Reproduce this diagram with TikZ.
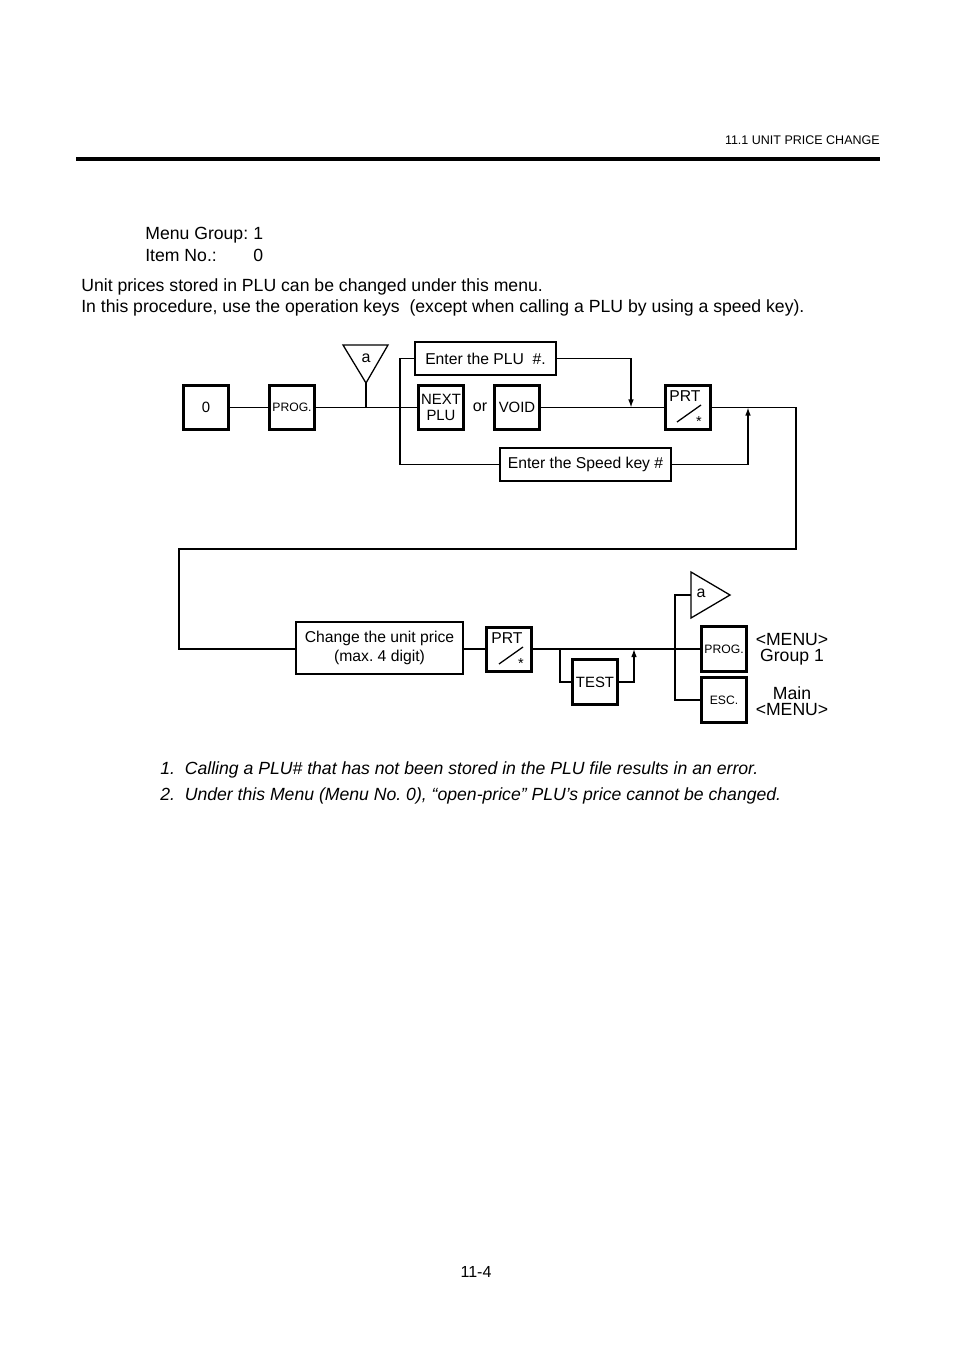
\documentclass[tikz,border=0pt]{standalone}
\usepackage{fontspec}
\setmainfont{Liberation Sans}
\usetikzlibrary{arrows.meta}
\frenchspacing
\begin{document}
\begin{tikzpicture}[x=0.624pt,y=-0.624pt,
  keybox/.style={draw,line width=1.9pt,minimum width=27.5pt,minimum height=27.5pt,inner sep=0pt,font=\fontsize{9.3}{10.5}\selectfont,align=center},
  smallkey/.style={keybox,font=\fontsize{7.6}{9}\selectfont},
  textbox/.style={draw,line width=0.9pt,inner sep=0pt,font=\fontsize{9.8}{11.5}\selectfont,align=center},
  conn/.style={line width=0.8pt},
  arr/.style={conn,-{Latex[length=5pt,width=3.5pt]}},
  body/.style={anchor=base west,inner sep=0pt,font=\fontsize{11}{13}\selectfont},
  note/.style={anchor=base west,inner sep=0pt,font=\fontsize{11}{13}\selectfont\itshape},
  lbl/.style={inner sep=0pt,font=\fontsize{11}{12}\selectfont,align=center},
  tri/.style={draw,line width=0.8pt}]
\useasboundingbox (0,0) rectangle (954,1348);
\fill[white] (0,0) rectangle (954,1348);
% header
\node[anchor=base east,inner sep=0pt,font=\fontsize{7.8}{9}\selectfont] (hdr) at (880,144) {11.1 UNIT PRICE CHANGE};
\draw[line width=2pt] (76,159) -- (880,159);
% intro text
\node[body] (mg) at (145,239) {Menu Group:};
\node[body] (mg1) at (253,239) {1};
\node[body] (it) at (145,261) {Item No.:};
\node[body] (it0) at (253,261) {0};
\node[body] (t1) at (81,291) {Unit prices stored in PLU can be changed under this menu.};
\node[body] (t2) at (81,312) {In this procedure, use the operation keys\ \ (except when calling a PLU by using a speed key).};
% top row
\node[keybox] (k0) at (206,407.5) {0};
\node[smallkey] (kprog) at (292,407.5) {PROG.};
\node[keybox] (knext) at (441,407.5) {NEXT\\PLU};
\node[lbl,font=\fontsize{10}{12}\selectfont] (or) at (480,407) {or};
\node[keybox] (kvoid) at (517,407.5) {VOID};
\node[keybox] (kprt) at (688,407.5) {};
\node[anchor=north west,inner sep=0pt,font=\fontsize{9.8}{10}\selectfont] (kprtt) at (669,390) {PRT};
\draw[line width=0.8pt] (677,422) -- (701,405);
\node[inner sep=0pt,font=\fontsize{9}{10}\selectfont] (kprts) at (699,422) {*};
\node[textbox,minimum width=88pt,minimum height=20.6pt] (plu) at (485.5,358.5) {Enter the PLU\ \ \#.};
\node[textbox,minimum width=106.7pt,minimum height=20.6pt] (spd) at (585.5,464.5) {Enter the Speed key \#};
% down triangle a
\draw[tri] (343,345) -- (388,345) -- (366,383) -- cycle;
\coordinate (apex1) at (366,383);
\node[lbl,font=\fontsize{10}{12}\selectfont] (a1) at (366,358) {a};
% connectors top
\coordinate (j1) at (366,407.5);
\coordinate (br) at (400,407.5);
\draw[conn] (k0) -- (kprog);
\draw[conn] (kprog) -- (knext);
\draw[conn] (apex1) -- (j1);
\draw[conn] (plu.west) -| (br) |- (spd.west);
\draw[conn] (kvoid) -- (kprt);
\draw[arr] (plu.east) -| (631,407.5);
\draw[arr] (spd.east) -| (748,407.5);
% long return path
\node[textbox,minimum width=104.2pt,minimum height=32.4pt] (chg) at (379.5,648) {Change the unit price\\(max. 4 digit)};
\draw[conn] (kprt.east) -- (796,407.5) -- (796,549) -- (179,549) -- (179,649) -- (chg.west |- 0,649);
% bottom row
\node[keybox] (kprt2) at (509,649.5) {};
\node[anchor=north west,inner sep=0pt,font=\fontsize{9.8}{10}\selectfont] (kprt2t) at (491,632) {PRT};
\draw[line width=0.8pt] (499,664) -- (523,647);
\node[inner sep=0pt,font=\fontsize{9}{10}\selectfont] (kprt2s) at (521,664) {*};
\draw[conn] (chg.east |- 0,649) -- (kprt2.west |- 0,649);
\node[keybox] (ktest) at (595,682) {TEST};
\node[smallkey] (kprog2) at (724,649) {PROG.};
\node[smallkey] (kesc) at (724,700) {ESC.};
\draw[conn] (kprt2.east |- 0,649) -- (kprog2.west);
\draw[conn] (560,649) |- (ktest.west);
\draw[arr] (ktest.east) -| (634,649);
% right triangle a
\draw[tri] (691,572) -- (730,595) -- (691,618) -- cycle;
\node[lbl,font=\fontsize{10}{12}\selectfont] (a2) at (701,593) {a};
\coordinate (trl) at (691,595);
\draw[conn] (trl) -| (675,700) -- (kesc.west);
% labels right
\node[lbl] (m1) at (792,649) {<MENU>\\[-2pt]Group 1};
\node[lbl] (m2) at (792,701) {Main\\[-2pt]<MENU>};
% notes
\node[note] (n1) at (160,774) {1.\ \ Calling a PLU\# that has not been stored in the PLU file results in an error.};
\node[note] (n2) at (160,800) {2.\ \ Under this Menu (Menu No. 0), “open-price” PLU’s price cannot be changed.};
% page number
\node[anchor=base,inner sep=0pt,font=\fontsize{10}{12}\selectfont] (pg) at (476,1277) {11-4};
\end{tikzpicture}
\end{document}
